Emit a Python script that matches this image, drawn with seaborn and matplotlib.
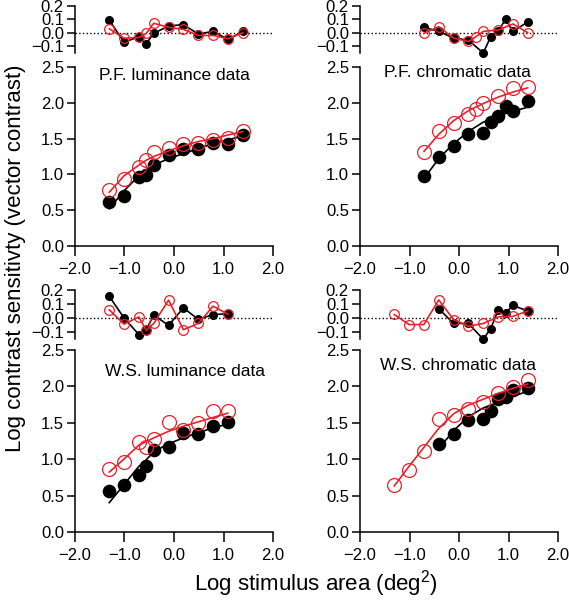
import matplotlib
matplotlib.use('Agg')
import matplotlib.pyplot as plt
import seaborn as sns

sns.set_style('ticks')
plt.rcParams['font.family'] = ['Liberation Sans', 'DejaVu Sans']
plt.rcParams['mathtext.fontset'] = 'custom'
plt.rcParams['mathtext.rm'] = 'Liberation Sans'
plt.rcParams['mathtext.it'] = 'Liberation Sans:italic'
plt.rcParams['axes.edgecolor'] = 'black'
plt.rcParams['text.color'] = 'black'
plt.rcParams['xtick.color'] = 'black'
plt.rcParams['ytick.color'] = 'black'
plt.rcParams['axes.linewidth'] = 1.1

RED = '#e8202a'

# P.F. luminance
pfl_x = [-1.31, -1.01, -0.71, -0.56, -0.41, -0.11, 0.19, 0.49, 0.79, 1.09, 1.39]
pfl_black = [0.61, 0.70, 0.96, 0.99, 1.13, 1.27, 1.35, 1.35, 1.44, 1.43, 1.55]
pfl_black_fit = [0.52, 0.77, 0.98, 1.06, 1.13, 1.22, 1.29, 1.36, 1.43, 1.48, 1.54]
pfl_black_res = [0.095, -0.07, -0.03, -0.08, -0.005, 0.05, 0.06, -0.01, 0.01, -0.05, 0.01]
pfl_red = [0.78, 0.94, 1.11, 1.20, 1.31, 1.37, 1.42, 1.44, 1.48, 1.51, 1.61]
pfl_red_fit = [0.75, 0.98, 1.13, 1.20, 1.25, 1.33, 1.40, 1.46, 1.50, 1.55, 1.60]
pfl_red_res = [0.03, -0.04, -0.035, -0.005, 0.07, 0.04, 0.025, -0.02, -0.02, -0.045, 0.0]

# P.F. chromatic
pfc_black_x = [-0.71, -0.41, -0.11, 0.19, 0.49, 0.64, 0.79, 0.94, 1.09, 1.39]
pfc_black = [0.98, 1.24, 1.40, 1.57, 1.58, 1.73, 1.82, 1.95, 1.89, 2.02]
pfc_black_fit = [0.94, 1.22, 1.43, 1.60, 1.73, 1.77, 1.81, 1.85, 1.88, 1.94]
pfc_black_res = [0.04, 0.01, -0.04, -0.055, -0.15, -0.03, 0.01, 0.10, 0.01, 0.08]
pfc_red_x = [-0.71, -0.41, -0.11, 0.19, 0.34, 0.49, 0.79, 1.09, 1.39]
pfc_red = [1.31, 1.61, 1.72, 1.84, 1.91, 2.00, 2.10, 2.21, 2.22]
pfc_red_fit = [1.32, 1.56, 1.75, 1.89, 1.94, 1.99, 2.08, 2.15, 2.21]
pfc_red_res = [-0.005, 0.045, -0.04, -0.065, -0.03, 0.01, 0.02, 0.065, 0.0]

# W.S. luminance
wsl_x = [-1.31, -1.01, -0.71, -0.56, -0.41, -0.11, 0.19, 0.49, 0.79, 1.09]
wsl_black = [0.56, 0.65, 0.78, 0.90, 1.12, 1.16, 1.36, 1.35, 1.45, 1.51]
wsl_black_fit = [0.40, 0.65, 0.90, 0.99, 1.10, 1.21, 1.29, 1.36, 1.43, 1.48]
wsl_black_res = [0.157, 0.0, -0.12, -0.085, 0.02, -0.053, 0.072, -0.01, 0.024, 0.03]
wsl_red = [0.87, 0.96, 1.23, 1.16, 1.27, 1.51, 1.40, 1.49, 1.66, 1.66]
wsl_red_fit = [0.82, 1.00, 1.19, 1.24, 1.29, 1.38, 1.45, 1.51, 1.57, 1.63]
wsl_red_res = [0.06, -0.045, 0.007, -0.09, -0.04, 0.128, -0.085, -0.04, 0.085, 0.026]

# W.S. chromatic
wsc_black_x = [-0.41, -0.11, 0.19, 0.49, 0.64, 0.79, 0.94, 1.09, 1.39]
wsc_black = [1.21, 1.35, 1.54, 1.55, 1.66, 1.82, 1.85, 1.95, 1.98]
wsc_black_fit = [1.14, 1.39, 1.58, 1.70, 1.74, 1.77, 1.81, 1.86, 1.93]
wsc_black_res = [0.067, -0.04, -0.04, -0.154, -0.077, 0.055, 0.036, 0.09, 0.05]
wsc_red_x = [-1.31, -1.01, -0.71, -0.41, -0.11, 0.19, 0.49, 0.79, 1.09, 1.39]
wsc_red = [0.65, 0.85, 1.11, 1.55, 1.61, 1.68, 1.78, 1.91, 1.99, 2.08]
wsc_red_fit = [0.63, 0.90, 1.16, 1.42, 1.62, 1.74, 1.82, 1.90, 1.97, 2.03]
wsc_red_res = [0.025, -0.048, -0.048, 0.13, -0.012, -0.06, -0.04, 0.007, 0.012, 0.05]

x_ticks = [-2.0, -1.0, 0.0, 1.0, 2.0]
y_ticks = [0.0, 0.5, 1.0, 1.5, 2.0, 2.5]
res_ticks = [0.2, 0.1, 0.0, -0.1]


def fmt(v):
    return f'{v:.1f}'.replace('-', '\u2212')


def draw_panel(ax_res, ax, title, tpos, bx, by, bfit, bres, rx, ry, rfit, rres):
    # residuals
    ax_res.axhline(0, color='black', ls=':', lw=1)
    sns.lineplot(x=bx, y=bres, ax=ax_res, color='black', lw=1.2, marker='o',
                 ms=6.5, mec='black', mew=0, legend=False, clip_on=False)
    sns.lineplot(x=rx, y=rres, ax=ax_res, color=RED, lw=1.2, marker='o',
                 ms=7, mfc='none', mec=RED, mew=0.9, legend=False, clip_on=False)
    ax_res.set_xlim(-2, 2)
    ax_res.set_ylim(-0.15, 0.2)
    ax_res.set_yticks(res_ticks)
    ax_res.set_yticklabels([fmt(v) for v in res_ticks])
    ax_res.set_xticks([])
    for s in ['top', 'right', 'bottom']:
        ax_res.spines[s].set_visible(False)
    ax_res.tick_params(axis='y', direction='out', length=6, width=1.1, pad=2, labelsize=12)

    # data and fits
    sns.lineplot(x=bx, y=bfit, ax=ax, color='black', lw=1.2, legend=False)
    sns.lineplot(x=bx, y=by, ax=ax, color='black', lw=0, marker='o', ms=9.8,
                 mec='black', mew=0, legend=False)
    sns.lineplot(x=rx, y=rfit, ax=ax, color=RED, lw=1.2, legend=False)
    sns.lineplot(x=rx, y=ry, ax=ax, color=RED, lw=0, marker='o', ms=10,
                 mfc='none', mec=RED, mew=0.9, legend=False)
    ax.set_xlim(-2, 2)
    ax.set_ylim(0, 2.5)
    ax.set_xticks(x_ticks)
    ax.set_xticklabels([fmt(v) for v in x_ticks])
    ax.set_yticks(y_ticks)
    ax.set_yticklabels([fmt(v) for v in y_ticks])
    sns.despine(ax=ax)
    ax.tick_params(axis='y', direction='out', length=6, width=1.1, pad=2, labelsize=12)
    ax.tick_params(axis='x', direction='out', length=7.5, width=1.1, pad=4, labelsize=12)
    ax.set_xlabel('')
    ax.set_ylabel('')
    ax_res.set_xlabel('')
    ax_res.set_ylabel('')
    ax.text(tpos[0], tpos[1], title, transform=ax.transAxes, ha='center', va='center',
            fontsize=12.5)


fig = plt.figure(figsize=(5.69, 6.0), dpi=100)
L, R, W = 0.1318, 0.6327, 0.348
ax_tl_res = fig.add_axes([L, 0.9117, W, 0.0788])
ax_tl = fig.add_axes([L, 0.59, W, 0.2983])
ax_tr_res = fig.add_axes([R, 0.9117, W, 0.0788])
ax_tr = fig.add_axes([R, 0.59, W, 0.2983])
ax_bl_res = fig.add_axes([L, 0.4355, W, 0.0808])
ax_bl = fig.add_axes([L, 0.1133, W, 0.304])
ax_br_res = fig.add_axes([R, 0.4355, W, 0.0808])
ax_br = fig.add_axes([R, 0.1133, W, 0.304])

draw_panel(ax_tl_res, ax_tl, 'P.F. luminance data', (0.5, 0.955),
           pfl_x, pfl_black, pfl_black_fit, pfl_black_res,
           pfl_x, pfl_red, pfl_red_fit, pfl_red_res)
draw_panel(ax_tr_res, ax_tr, 'P.F. chromatic data', (0.49, 0.97),
           pfc_black_x, pfc_black, pfc_black_fit, pfc_black_res,
           pfc_red_x, pfc_red, pfc_red_fit, pfc_red_res)
draw_panel(ax_bl_res, ax_bl, 'W.S. luminance data', (0.556, 0.878),
           wsl_x, wsl_black, wsl_black_fit, wsl_black_res,
           wsl_x, wsl_red, wsl_red_fit, wsl_red_res)
draw_panel(ax_br_res, ax_br, 'W.S. chromatic data', (0.495, 0.915),
           wsc_black_x, wsc_black, wsc_black_fit, wsc_black_res,
           wsc_red_x, wsc_red, wsc_red_fit, wsc_red_res)

fig.text(0.556, 0.016, 'Log stimulus area (deg$^2$)', ha='center', va='baseline', fontsize=16)
fig.text(0.027, 0.57, 'Log contrast sensitivty (vector contrast)', ha='center', va='center',
         rotation=90, fontsize=16)

fig.savefig('out.png', dpi=100)
